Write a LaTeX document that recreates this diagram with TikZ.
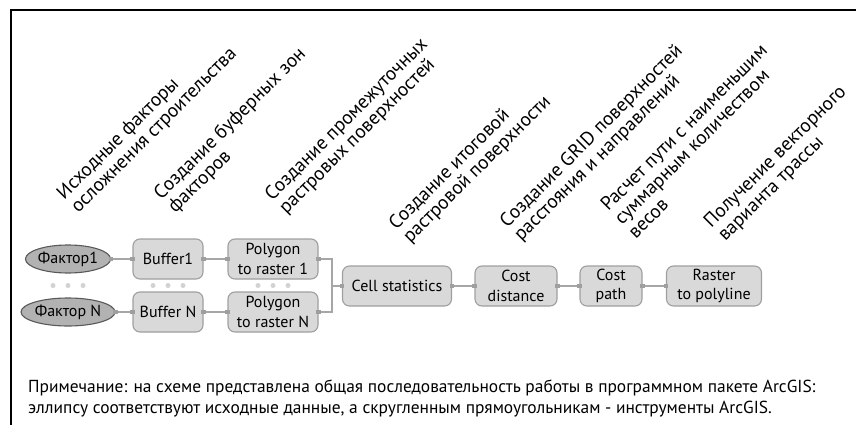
\documentclass[tikz,border=0pt]{standalone}
\usepackage{fontspec}
\setmainfont{PT Sans}
\usetikzlibrary{shapes.geometric,calc}

\begin{document}
\begin{tikzpicture}[
    x=1pt, y=-1pt,
    node distance=105pt,
    font=\fontsize{16}{19.5}\selectfont,
    tool/.style={
		rectangle,
		rounded corners=7pt,
		draw=gray!75,
		line width=1.1pt,
		fill=gray!30,
		align=center,
		inner sep=2pt,
		minimum height=40pt
	},
	data/.style={
		ellipse,
		draw=gray!70!black,
		line width=1.1pt,
		fill=gray!60,
		inner sep=0pt,
		minimum width=79pt,
		minimum height=28pt
	},
	link/.style={
		draw=gray!70,
		line width=1.3pt
	},
	port/.style={
		rectangle,
		fill=gray!75,
		inner sep=0pt,
		minimum size=4.5pt
	},
	dot/.style={
		circle,
		fill=gray!35,
		inner sep=0pt,
		minimum size=5pt
	},
	title/.style={
		rotate=45,
		anchor=south west,
		align=left,
		inner sep=0pt,
		font=\fontsize{19.3}{19.5}\selectfont
	}
  ]
    % page and frame
  \useasboundingbox (0,0) rectangle (856,425);
  \draw [line width=1.8pt] (11,425) -- (11,10) -- (856,10);

    % We start by placing the blocks
  \node [data] (fac1) at (68,259) {Фактор1};
  \node [data, below of=fac1, node distance=53pt] (facN) {Фактор N};

  \node [tool, minimum width=70pt, right of=fac1, node distance=100pt] (buf1) {Buffer1};
  \node [tool, minimum width=70pt, right of=facN, node distance=100pt] (bufN) {Buffer N};

  \node [tool, minimum width=90pt, right of=buf1] (poly1) {Polygon\\to raster 1};
  \node [tool, minimum width=90pt, right of=bufN] (polyN) {Polygon\\to raster N};

  \node [tool, minimum width=109pt] (cell) at (397,286) {Cell statistics};
  \node [tool, minimum width=82pt, right of=cell, node distance=119pt] (costd) {Cost\\distance};
  \node [tool, minimum width=62pt, right of=costd, node distance=95pt] (costp) {Cost\\path};
  \node [tool, minimum width=95pt, right of=costp, node distance=103pt] (rast) {Raster\\to polyline};

    % dots between the two rows
  \foreach \col in {fac, buf, poly} {
    \coordinate (\col mid) at ($(\col 1)!0.5!(\col N)$);
    \node [dot] (\col dotA) at ([xshift=-15pt]\col mid) {};
    \node [dot] (\col dotB) at (\col mid) {};
    \node [dot] (\col dotC) at ([xshift=15pt]\col mid) {};
  }

    % connectors
  \coordinate (join) at (332,286);
  \draw [link] (fac1) -- (buf1) node [port, pos=0] {} node [port, pos=1] {};
  \draw [link] (facN) -- (bufN) node [port, pos=0] {} node [port, pos=1] {};
  \draw [link] (buf1.east) -- (buf1.east -| poly1.west) node [port, pos=0] {} node [port, pos=1] {};
  \draw [link] (bufN.east) -- (bufN.east -| polyN.west) node [port, pos=0] {} node [port, pos=1] {};
  \draw [link] (poly1.east) -| (join) node [port, pos=0] {};
  \draw [link] (polyN.east) -| (join) node [port, pos=0] {};
  \draw [link] (join) -- (cell.west) node [port, pos=1] {};
  \draw [link] (cell) -- (costd) node [port, pos=0] {} node [port, pos=1] {};
  \draw [link] (costd) -- (costp) node [port, pos=0] {} node [port, pos=1] {};
  \draw [link] (costp) -- (rast) node [port, pos=0] {} node [port, pos=1] {};

    % rotated step titles
  \node [title] (t1) at (81,217) {Исходные факторы\\осложнения строительства};
  \node [title] (t2) at (178,217) {Создание буферных зон\\факторов};
  \node [title] (t3) at (289,218) {Создание промежуточных\\растровых поверхностей};
  \node [title] (t4) at (413,247) {Создание итоговой\\растровой поверхности};
  \node [title] (t5) at (524,245) {Создание GRID поверхностей\\расстояния и направлений};
  \node [title] (t6) at (636,240) {Расчет пути с наименьшим\\суммарным количеством\\весов};
  \node [title] (t7) at (728,245) {Получение векторного\\варианта трассы};

    % note
  \node [anchor=north west, align=left, inner sep=0pt, font=\fontsize{17.4}{21}\selectfont] (note) at (28,380)
  {Примечание: на схеме представлена общая последовательность работы в программном пакете ArcGIS:\\
   эллипсу соответствуют исходные данные, а скругленным прямоугольникам - инструменты ArcGIS.};
\end{tikzpicture}
\end{document}
